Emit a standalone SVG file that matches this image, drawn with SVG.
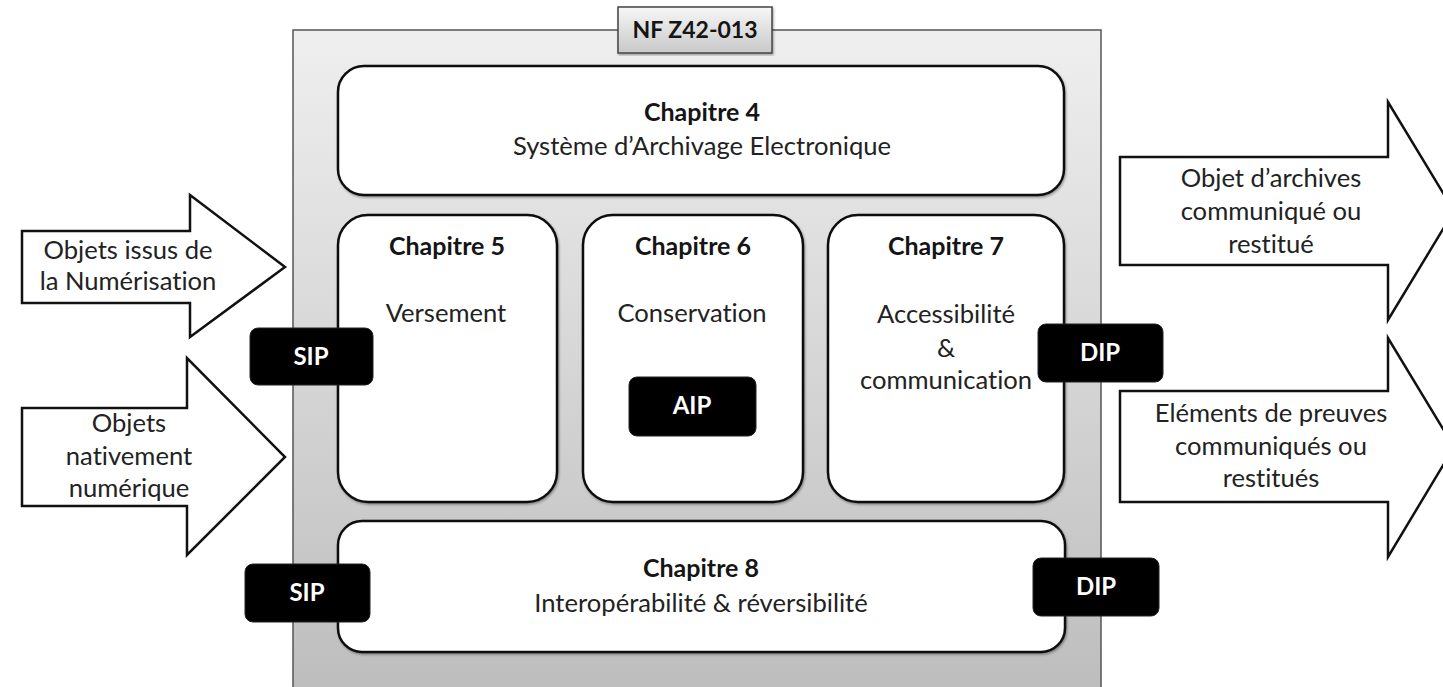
<svg xmlns="http://www.w3.org/2000/svg" width="1443" height="687" viewBox="0 0 1443 687">
<defs>
<linearGradient id="gOuter" x1="0" y1="0" x2="0" y2="1">
<stop offset="0" stop-color="#efefef"/>
<stop offset="1" stop-color="#bcbcbc"/>
</linearGradient>
<linearGradient id="gLabel" x1="0" y1="0" x2="0" y2="1">
<stop offset="0" stop-color="#f7f7f7"/>
<stop offset="1" stop-color="#c8c8c8"/>
</linearGradient>
<filter id="sh" x="-5%" y="-5%" width="110%" height="110%">
<feDropShadow dx="1" dy="1.5" stdDeviation="1.2" flood-color="#000" flood-opacity="0.35"/>
</filter>
</defs>
<style>
text{font-family:"Lato","Open Sans","Liberation Sans",sans-serif;fill:#222;text-anchor:middle;font-variant-ligatures:none}
.t{font-size:25.6px}
.b{font-size:25px;font-weight:bold;fill:#151515}
.w{font-size:24px;font-weight:bold;fill:#ffffff}
.box{fill:#ffffff;stroke:#111;stroke-width:2.5}
.tag{fill:#000;stroke:#222;stroke-width:1}
.arr{fill:#ffffff;stroke:#111;stroke-width:2.5;stroke-linejoin:miter}
</style>
<rect width="1443" height="687" fill="#ffffff"/>

<g id="nf-z42-013">
<rect x="293" y="30" width="808" height="680" fill="url(#gOuter)" stroke="#555" stroke-width="1.5"/>
<rect x="618" y="7" width="154" height="46" fill="url(#gLabel)" stroke="#444" stroke-width="1.5" filter="url(#sh)"/>
<text class="b" x="695" y="38" style="font-size:23px">NF Z42-013</text>
</g>

<g id="chapitre4">
<rect class="box" x="338" y="66" width="726" height="129" rx="26" filter="url(#sh)"/>
<text class="b" x="702" y="121">Chapitre 4</text>
<text class="t" x="702" y="155">Système d’Archivage Electronique</text>
</g>

<g id="chapitre5">
<rect class="box" x="338" y="215" width="219" height="287" rx="30" filter="url(#sh)"/>
<text class="b" x="447" y="255">Chapitre 5</text>
<text class="t" x="446" y="322">Versement</text>
</g>

<g id="chapitre6">
<rect class="box" x="583" y="215" width="220" height="287" rx="30" filter="url(#sh)"/>
<text class="b" x="693" y="255">Chapitre 6</text>
<text class="t" x="692" y="322">Conservation</text>
</g>

<g id="chapitre7">
<rect class="box" x="828" y="215" width="236" height="287" rx="30" filter="url(#sh)"/>
<text class="b" x="946" y="255">Chapitre 7</text>
<text class="t" x="946" y="323">Accessibilité</text>
<text class="t" x="946" y="357">&amp;</text>
<text class="t" x="946" y="389">communication</text>
</g>

<g id="chapitre8">
<rect class="box" x="338" y="521" width="727" height="131" rx="24" filter="url(#sh)"/>
<text class="b" x="701" y="577">Chapitre 8</text>
<text class="t" x="701" y="612">Interopérabilité &amp; réversibilité</text>
</g>

<g id="aip">
<rect class="tag" x="629" y="377" width="127" height="59" rx="8"/>
<text class="w" x="692" y="414">AIP</text>
</g>

<g id="sip1">
<rect class="tag" x="250" y="328" width="123" height="57" rx="8"/>
<text class="w" x="311" y="365">SIP</text>
</g>

<g id="sip2">
<rect class="tag" x="245" y="564" width="125" height="58" rx="8"/>
<text class="w" x="307" y="601">SIP</text>
</g>

<g id="dip1">
<rect class="tag" x="1038" y="324" width="125" height="58" rx="8"/>
<text class="w" x="1100" y="361">DIP</text>
</g>

<g id="dip2">
<rect class="tag" x="1033" y="558" width="126" height="58" rx="8"/>
<text class="w" x="1096" y="595">DIP</text>
</g>

<g id="connectors">
<g id="in-numerisation">
<path class="arr" d="M22,231 H190 V195 L285,267 L190,337 V303 H22 Z"/>
<text class="t" x="128" y="259">Objets issus de</text>
<text class="t" x="128" y="290">la Numérisation</text>
</g>
<g id="in-natif">
<path class="arr" d="M22,408 H187 V358 L285,457 L187,555 V506 H22 Z"/>
<text class="t" x="129" y="432">Objets</text>
<text class="t" x="129" y="465">nativement</text>
<text class="t" x="129" y="497">numérique</text>
</g>
<g id="out-archives">
<path class="arr" d="M1120,157 H1388 V102 L1454,211 L1388,320 V265 H1120 Z"/>
<text class="t" x="1271" y="187">Objet d’archives</text>
<text class="t" x="1271" y="220">communiqué ou</text>
<text class="t" x="1271" y="253">restitué</text>
</g>
<g id="out-preuves">
<path class="arr" d="M1120,391 H1388 V338 L1454,447 L1388,557 V502 H1120 Z"/>
<text class="t" x="1271" y="422">Eléments de preuves</text>
<text class="t" x="1271" y="455">communiqués ou</text>
<text class="t" x="1271" y="487">restitués</text>
</g>
</g>
</svg>
